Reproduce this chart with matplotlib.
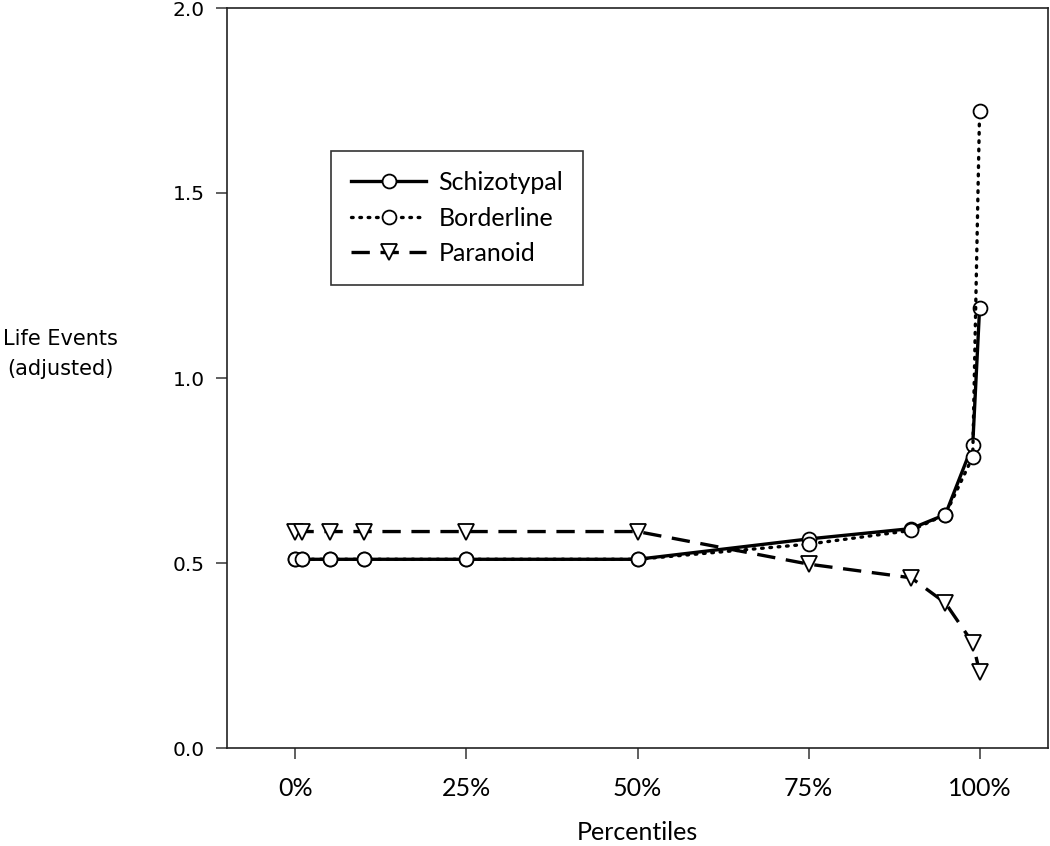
import numpy as np
import matplotlib.pyplot as plt

# percentiles and adjusted life events per group
pct = [0, 1, 5, 10, 25, 50, 75, 90, 95, 99, 100]
schizotypal = [0.51, 0.51, 0.51, 0.51, 0.51, 0.51, 0.565, 0.593, 0.631, 0.820, 1.188]
borderline = [0.51, 0.51, 0.51, 0.51, 0.51, 0.51, 0.551, 0.588, 0.631, 0.787, 1.721]
paranoid = [0.585, 0.585, 0.585, 0.585, 0.585, 0.585, 0.497, 0.46, 0.392, 0.284, 0.206]
xticks = [0, 25, 50, 75, 100]
xticklabels = ['0%', '25%', '50%', '75%', '100%']
yticks = [0.0, 0.5, 1.0, 1.5, 2.0]

narrow = 'Lato'
fig = plt.figure(figsize=(10.5, 8.46), dpi=100)
ax = fig.add_axes([227/1050, 1-748/846, (1048-227)/1050, (748-8)/846])

mk = dict(marker='o', markersize=10, markerfacecolor='white', markeredgecolor='black', markeredgewidth=1.3)
ax.plot(pct, schizotypal, color='black', linewidth=2.4, label='Schizotypal', **mk)
ax.plot(pct, borderline, color='black', linewidth=2.4, linestyle=(0, (0.5, 2.0)),
        dash_capstyle='round', label='Borderline', **mk)
mk['marker'] = 'v'
mk['markersize'] = 11
ax.plot(pct, paranoid, color='black', linewidth=2.4, linestyle=(0, (5.5, 3.2)), label='Paranoid', **mk)

ax.set_xlim(-10, 110)
ax.set_ylim(0, 2.0)
ax.set_xticks(xticks)
ax.set_xticklabels(xticklabels, fontsize=18, family=narrow)
ax.set_yticks(yticks)
ax.set_yticklabels(['%.1f' % v for v in yticks], fontsize=14.5, family='DejaVu Sans')
ax.tick_params(axis='both', direction='out', length=8, width=1.2, color='#444444')
ax.tick_params(axis='x', pad=13)
ax.tick_params(axis='y', pad=8)
for s in ax.spines.values():
    s.set_linewidth(1.2)
    s.set_color('#222222')

ax.set_xlabel('Percentiles', fontsize=18, family=narrow, labelpad=15)
fig.text(60/1050, 1-354/846, 'Life Events\n(adjusted)', fontsize=15, family='DejaVu Sans',
         ha='center', va='center', linespacing=1.6)

leg = ax.legend(loc='upper left', bbox_to_anchor=((331-227)/821, (748-151)/740),
                prop={'family': narrow, 'size': 18}, frameon=True, fancybox=False,
                edgecolor='black', handlelength=3.0, borderpad=0.8, labelspacing=0.5,
                handletextpad=0.5, borderaxespad=0)
leg.get_frame().set_linewidth(1.2)

plt.savefig('out.png', dpi=100)
